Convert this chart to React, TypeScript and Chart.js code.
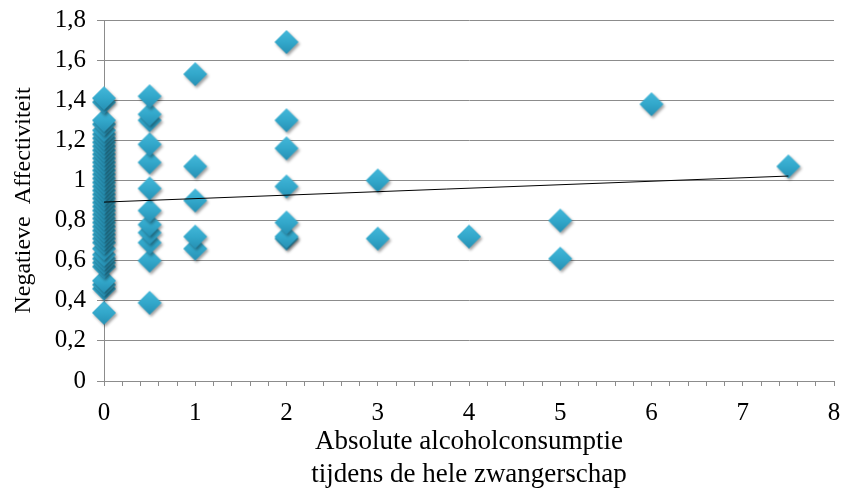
import React, { useEffect, useRef } from "react";
import { Chart, registerables } from "chart.js";

Chart.register(...registerables);

// Absolute alcohol consumption (x) vs Negatieve Affectiviteit (y)
const x0Values = [0.34, 0.46, 0.48, 0.5, 0.57, 0.59, 0.61, 0.63, 0.66, 0.69, 0.71, 0.73, 0.75, 0.77, 0.79, 0.81, 0.83, 0.85, 0.87, 0.89, 0.91, 0.93, 0.95, 0.97, 0.99, 1.01, 1.03, 1.05, 1.07, 1.09, 1.11, 1.13, 1.15, 1.17, 1.19, 1.21, 1.23, 1.25, 1.28, 1.3, 1.39, 1.41];
const x05Values = [0.39, 0.6, 0.69, 0.74, 0.78, 0.85, 0.96, 1.09, 1.18, 1.3, 1.33, 1.42];
const x1Values = [0.66, 0.72, 0.9, 1.07, 1.53];
const x2Values = [0.71, 0.72, 0.79, 0.97, 1.16, 1.3, 1.69];
const x3Values = [0.71, 1.0];
const x4Values = [0.72];
const x5Values = [0.61, 0.8];
const x6Values = [1.38];
const x75Values = [1.07];

const groupX = [0, 0.5, 1, 2, 3, 4, 5, 6, 7.5];
const groupY = [x0Values, x05Values, x1Values, x2Values, x3Values, x4Values, x5Values, x6Values, x75Values];

const trendX = [0, 7.5];
const trendY = [0.892, 1.022];

const yTicks = [0, 0.2, 0.4, 0.6, 0.8, 1, 1.2, 1.4, 1.6, 1.8];
const xTickLabels = ["0", "1", "2", "3", "4", "5", "6", "7", "8"];

const yTitle = "Negatieve  Affectiviteit";
const xTitle = ["Absolute alcoholconsumptie", "tijdens de hele zwangerschap"];

const FONT = "'Liberation Serif', 'Times New Roman', serif";
const GRID = "#8c8c8c";

function makeDiamond(): HTMLCanvasElement {
  const c = document.createElement("canvas");
  c.width = 36;
  c.height = 36;
  const g = c.getContext("2d")!;
  const cx = 18, cy = 18, r = 12;
  g.save();
  g.shadowColor = "rgba(0,0,0,0.38)";
  g.shadowBlur = 3;
  g.shadowOffsetX = 1.5;
  g.shadowOffsetY = 2;
  const grad = g.createLinearGradient(0, cy - r, 0, cy + r);
  grad.addColorStop(0, "#44b8da");
  grad.addColorStop(0.5, "#33a8cb");
  grad.addColorStop(1, "#2690b4");
  g.fillStyle = grad;
  g.beginPath();
  g.moveTo(cx, cy - r);
  g.lineTo(cx + r, cy);
  g.lineTo(cx, cy + r);
  g.lineTo(cx - r, cy);
  g.closePath();
  g.fill();
  g.restore();
  return c;
}

export default function App() {
  const ref = useRef<HTMLCanvasElement>(null);
  useEffect(() => {
    document.body.style.margin = "0";
    const points: { x: number; y: number }[] = [];
    groupX.forEach((gx, i) => groupY[i].forEach((v) => points.push({ x: gx, y: v })));
    const trend = trendX.map((x, i) => ({ x, y: trendY[i] }));
    const diamond = makeDiamond();
    const chart = new Chart(ref.current!, {
      type: "scatter",
      data: {
        datasets: [
          {
            type: "line",
            data: trend,
            borderColor: "#000000",
            borderWidth: 1,
            pointRadius: 0,
            fill: false,
            order: 0,
          } as any,
          {
            data: points,
            pointStyle: diamond as any,
            pointRadius: 12,
            backgroundColor: "#33a8cb",
            borderWidth: 0,
            clip: false,
            order: 1,
          } as any,
        ],
      },
      options: {
        animation: false,
        responsive: false,
        events: [],
        layout: { autoPadding: false, padding: { top: 20, right: 10, left: 0, bottom: 0 } },
        plugins: { legend: { display: false }, tooltip: { enabled: false } },
        scales: {
          x: {
            type: "linear",
            min: 0,
            max: 8,
            afterFit: (s: any) => {
              s.height = 114;
              s.paddingLeft = 0;
              s.paddingRight = 0;
            },
            afterBuildTicks: (s: any) => {
              const t: any[] = [];
              for (let i = 0; i <= 40; i++) t.push({ value: i * 0.2 });
              s.ticks = t;
            },
            grid: { drawOnChartArea: false, drawTicks: true, tickLength: 5, color: GRID },
            border: { display: true, color: GRID },
            ticks: {
              autoSkip: false,
              maxRotation: 0,
              padding: 12,
              color: "#000",
              font: { family: FONT, size: 25 },
              callback: (v: any) => {
                const n = Number(v);
                const r = Math.round(n);
                return Math.abs(n - r) < 1e-6 ? xTickLabels[r] : "";
              },
            },
            title: {
              display: true,
              text: xTitle,
              color: "#000",
              font: { family: FONT, size: 27, lineHeight: 1.22 },
              padding: { top: 0, bottom: 4 },
            },
          },
          y: {
            type: "linear",
            min: 0,
            max: 1.8,
            afterFit: (s: any) => {
              s.width = 104;
              s.paddingTop = 0;
              s.paddingBottom = 0;
            },
            afterBuildTicks: (s: any) => { s.ticks = yTicks.map((v) => ({ value: v })); },
            grid: { drawOnChartArea: true, drawTicks: true, tickLength: 7, color: GRID },
            border: { display: true, color: GRID },
            ticks: {
              padding: 11,
              color: "#000",
              font: { family: FONT, size: 25 },
              callback: (v: any) => String(Math.round(Number(v) * 10) / 10).replace(".", ","),
            },
            title: {
              display: true,
              text: yTitle,
              color: "#000",
              font: { family: FONT, size: 24 },
              padding: { top: 9, bottom: 0 },
            },
          },
        },
      },
    });
    return () => chart.destroy();
  }, []);
  return (
    <div style={{ position: "fixed", left: 0, top: 0, width: 844, height: 495, background: "#fff" }}>
      <canvas ref={ref} width={844} height={495} />
    </div>
  );
}
